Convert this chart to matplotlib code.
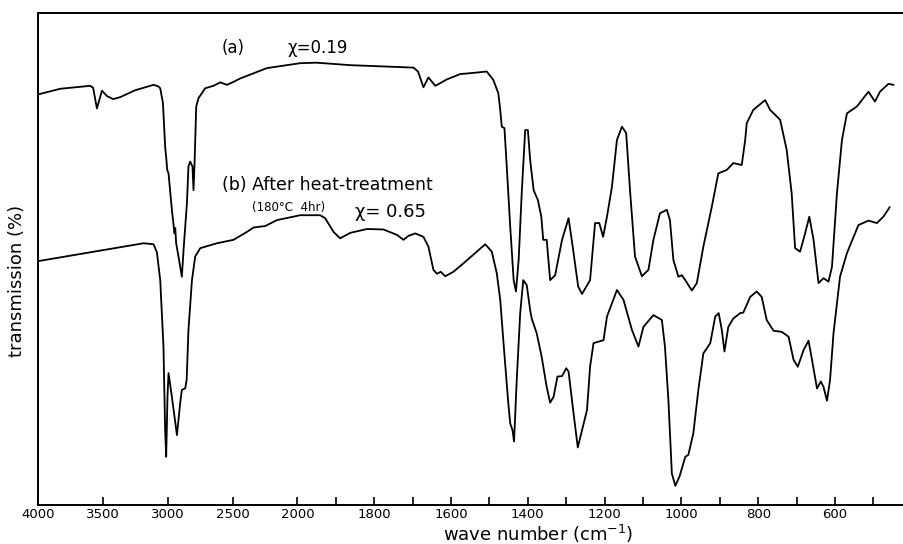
import numpy as np
import matplotlib
matplotlib.use("Agg")
import matplotlib.pyplot as plt

# IR spectra, wavenumber (cm-1) vs transmission (arbitrary %)
wn_a = [3995, 3832, 3601, 3578, 3549, 3510, 3470, 3423, 3369, 3253, 3112, 3076, 3060,
        3039, 3022, 3012, 3006, 2996, 2970, 2950, 2944, 2937, 2919, 2893, 2880, 2854,
        2842, 2829, 2811, 2803, 2795, 2782, 2764, 2713, 2649, 2597, 2545, 2494, 2442,
        2236, 1993, 1950, 1863, 1698, 1686, 1672, 1659, 1641, 1611, 1576, 1559, 1507,
        1490, 1477, 1472, 1468, 1461, 1455, 1446, 1437, 1431, 1424, 1416, 1407, 1400,
        1394, 1385, 1374, 1365, 1360, 1351, 1342, 1329, 1311, 1294, 1282, 1269, 1259,
        1238, 1225, 1214, 1204, 1194, 1181, 1168, 1155, 1144, 1134, 1121, 1103, 1086,
        1073, 1056, 1038, 1030, 1021, 1008, 999, 990, 973, 960, 943, 921, 904, 882,
        865, 843, 834, 830, 813, 782, 769, 760, 743, 726, 713, 704, 691, 678, 667, 656,
        643, 630, 617, 608, 595, 582, 569, 543, 513, 496, 483, 461, 448]
tr_a = [83.5, 84.6, 85.2, 84.8, 80.6, 84.2, 83.1, 82.5, 82.9, 84.3, 85.4, 85.1, 84.7,
        81.7, 72.8, 70.1, 68.1, 67.4, 60.0, 55.2, 56.3, 53.2, 50.5, 46.4, 51.8, 61.3,
        68.8, 69.8, 68.8, 64.0, 69.5, 81.0, 82.7, 84.7, 85.2, 85.9, 85.4, 86.0, 86.7,
        88.8, 89.8, 89.9, 89.4, 88.9, 88.1, 84.9, 86.9, 85.2, 86.5, 87.6, 87.7, 88.1,
        86.4, 83.7, 80.3, 76.9, 76.6, 68.8, 56.6, 45.7, 43.4, 49.8, 63.4, 76.2, 76.2,
        70.1, 64.0, 62.0, 58.6, 53.9, 53.9, 45.7, 46.7, 53.9, 58.3, 51.8, 44.4, 42.9,
        45.7, 57.3, 57.3, 54.5, 58.6, 64.7, 74.2, 76.9, 75.6, 64.0, 50.5, 46.5, 47.8,
        53.9, 59.3, 60.0, 57.9, 49.8, 46.4, 46.7, 45.7, 43.6, 45.1, 52.5, 60.6, 67.4, 68.1,
        69.5, 69.1, 74.2, 77.6, 80.3, 82.3, 80.3, 79.6, 78.3, 72.2, 63.4, 52.2, 51.5, 55.2, 58.6, 53.9,
        45.1, 46.1, 45.4, 48.4, 63.4, 74.2, 79.6, 81.0, 84.0, 82.0, 84.0, 85.6, 85.4]

wn_b = [3995, 3189, 3112, 3086, 3060, 3035, 3022, 3014, 3004, 2996, 2970, 2931, 2906,
        2893, 2867, 2856, 2842, 2815, 2790, 2751, 2622, 2494, 2391, 2340, 2249, 2159,
        1993, 1941, 1928, 1906, 1889, 1863, 1819, 1776, 1741, 1724, 1711, 1693, 1672,
        1659, 1646, 1637, 1627, 1615, 1594, 1568, 1511, 1494, 1481, 1472, 1464, 1451,
        1446, 1440, 1436, 1429, 1420, 1412, 1403, 1394, 1390, 1377, 1364, 1351, 1342,
        1333, 1323, 1311, 1300, 1294, 1281, 1270, 1259, 1246, 1238, 1229, 1216, 1203,
        1194, 1168, 1151, 1129, 1112, 1099, 1073, 1051, 1043, 1034, 1025, 1016, 1005,
        990, 982, 969, 956, 943, 925, 912, 903, 895, 888, 878, 865, 847, 839, 821, 804,
        791, 778, 760, 739, 721, 708, 697, 682, 669, 660, 647, 637, 630, 621, 613, 604,
        587, 569, 539, 513, 491, 474, 458]
tr_b = [49.6, 53.2, 53.0, 51.4, 45.7, 32.2, 15.2, 9.8, 22.0, 26.8, 22.0, 14.2, 20.7,
        23.4, 23.7, 25.4, 35.6, 45.7, 50.5, 52.2, 53.2, 53.9, 55.5, 56.4, 56.7, 57.9,
        58.9, 58.9, 58.3, 55.5, 54.2, 55.3, 56.1, 56.0, 54.9, 53.9, 54.7, 55.2, 54.5,
        52.5, 47.8, 47.0, 47.4, 46.5, 47.4, 49.1, 53.0, 51.5, 47.1, 41.7, 33.5, 20.7,
        16.6, 15.2, 12.9, 25.4, 39.0, 45.7, 44.7, 39.6, 37.9, 34.9, 30.1, 24.0, 20.8,
        22.0, 26.1, 26.2, 27.8, 27.1, 18.6, 11.7, 15.2, 19.3, 28.1, 32.9, 33.2, 33.5,
        38.3, 43.7, 41.7, 35.6, 32.2, 36.2, 38.6, 37.6, 32.2, 21.3, 6.4, 3.9, 5.8,
        9.8, 10.2, 14.6, 23.4, 30.8, 32.9, 38.3, 39.0, 35.6, 31.2, 36.2, 37.9, 39.0, 39.1, 42.3, 43.4,
        42.3, 37.6, 35.4, 35.2, 34.2, 29.5, 28.1, 31.5, 33.4, 29.5, 23.7, 25.1, 24.0, 21.2, 25.4, 34.9,
        46.4, 51.2, 56.9, 57.8, 57.3, 58.6, 60.5]

tick_wn = [4000, 3500, 3000, 2500, 2000, 1900, 1800, 1700, 1600, 1500, 1400, 1300,
           1200, 1100, 1000, 900, 800, 700, 600, 500]
tick_lab = ["4000", "3500", "3000", "2500", "2000", "", "1800", "", "1600", "", "1400", "",
            "1200", "", "1000", "", "800", "", "600", ""]

# chart paper compresses the region above 2000 cm-1
K = 2.965


def fwd(w):
    w = np.asarray(w, dtype=float)
    return np.where(w <= 2000, w, 2000 + (w - 2000) / K)


def inv(u):
    u = np.asarray(u, dtype=float)
    return np.where(u <= 2000, u, 2000 + (u - 2000) * K)


fig = plt.figure(figsize=(9.04, 5.44), dpi=100)
ax = fig.add_axes([38.5 / 904, 39 / 544, 864.5 / 904, 492 / 544])
ax.set_xscale("function", functions=(fwd, inv))

ax.plot(wn_a, tr_a, color="black", lw=1.3, solid_joinstyle="round")
ax.plot(wn_b, tr_b, color="black", lw=1.3, solid_joinstyle="round")

ax.set_xlim(4000, 423)
ax.set_ylim(0, 100)
ax.set_xticks(tick_wn, tick_lab, fontsize=9.5)
ax.minorticks_off()
ax.tick_params(axis="x", direction="in", length=6, width=1.2, pad=2.5)
ax.set_yticks([])
for s in ["left", "bottom", "top"]:
    ax.spines[s].set_linewidth(1.4)
ax.spines["right"].set_visible(False)

ax.set_xlabel("wave number (cm$^{-1}$)", fontsize=13, labelpad=0)
ax.xaxis.set_label_coords((538 - 38.5) / 864.5, -0.037)
ax.set_ylabel("transmission (%)", fontsize=13)
ax.yaxis.set_label_coords(-0.0145, (505 - 281) / 492)

fig.text(222 / 904, 1 - 48 / 544, "(a)", fontsize=12, va="center")
fig.text(287 / 904, 1 - 48 / 544, "χ=0.19", fontsize=12, va="center")
fig.text(222 / 904, 1 - 185 / 544, "(b) After heat-treatment", fontsize=12.5, va="center")
fig.text(252 / 904, 1 - 207 / 544, "(180°C  4hr)", fontsize=8.5, va="center")
fig.text(355 / 904, 1 - 212 / 544, "χ= 0.65", fontsize=13, va="center")

fig.savefig("out.png", dpi=100)
